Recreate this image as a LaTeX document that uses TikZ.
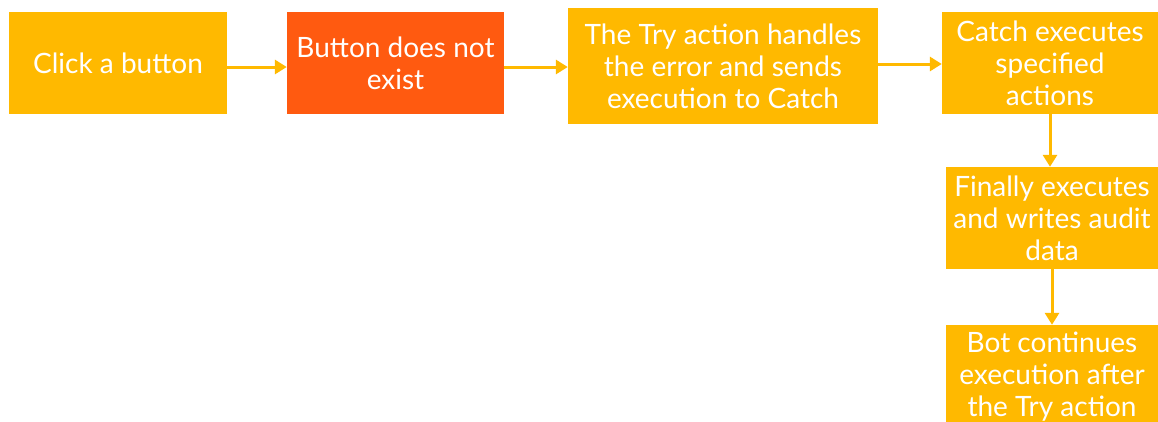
\documentclass[tikz,border=0pt]{standalone}
\usepackage{fontspec}
\setmainfont{Lato}
\usetikzlibrary{arrows.meta}
\definecolor{boxyellow}{RGB}{255,185,0}
\definecolor{boxred}{RGB}{255,90,16}
\begin{document}
\begin{tikzpicture}[x=1pt,y=-1pt,
  box/.style={fill=boxyellow,draw=none,text=white,align=center,inner sep=0pt,
    font=\fontsize{28}{32}\selectfont},
  arr/.style={draw=boxyellow,line width=3pt,-{Triangle[length=12pt,width=14pt]}}]
\useasboundingbox (0,0) rectangle (1158,421);
\clip (0,0) rectangle (1158,421);
\node[box,minimum width=218pt,minimum height=102pt] (b1) at (118,63) {Click a button};
\node[box,fill=boxred,minimum width=217pt,minimum height=102pt] (b2) at (395.5,63) {Button does not\\exist};
\node[box,minimum width=310pt,minimum height=116pt] (b3) at (723,66) {The Try action handles\\the error and sends\\execution to Catch};
\node[box,minimum width=216pt,minimum height=102pt] (b4) at (1050,63) {Catch executes\\specified\\actions};
\node[box,minimum width=212pt,minimum height=102pt] (b5) at (1052,218) {Finally executes\\and writes audit\\data};
\node[box,minimum width=212pt,minimum height=104pt] (b6) at (1052,377) {Bot continues\\execution after\\the Try action};
\draw[arr] ([yshift=-4pt]b1.east) -- ([yshift=-4pt]b2.west);
\draw[arr] ([yshift=-4pt]b2.east) -- ([yshift=-4pt]b2.east -| b3.west);
\draw[arr] ([yshift=-1pt]b4.west -| b3.east) -- ([yshift=-1pt]b4.west);
\draw[arr] (b4.south) -- (b4.south |- b5.north);
\draw[arr] (b5.south) -- (b6.north);
\end{tikzpicture}
\end{document}
